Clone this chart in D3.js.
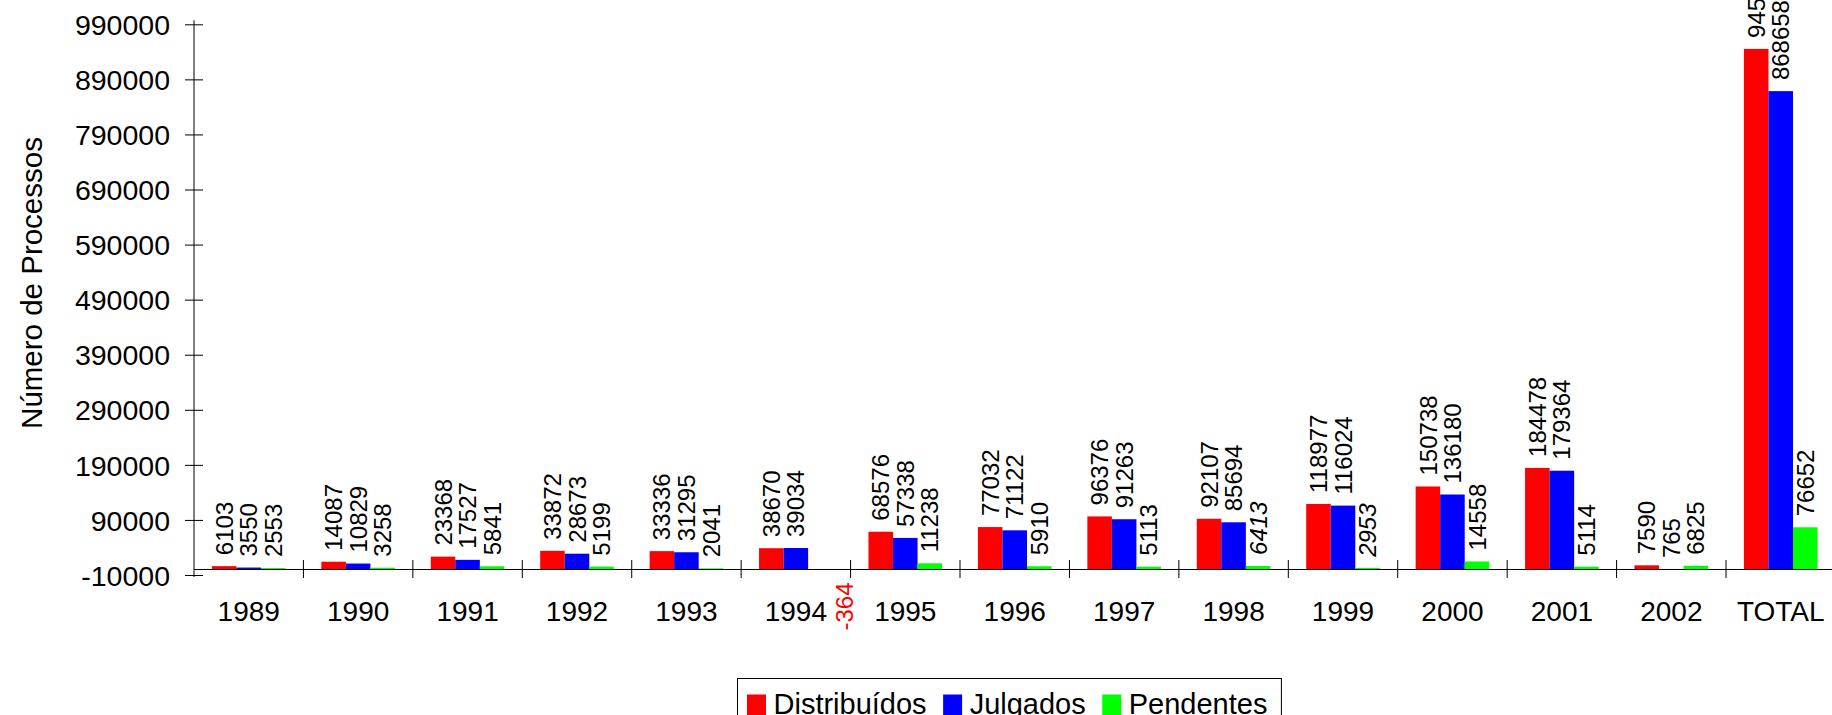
<!DOCTYPE html>
<html>
<head>
<meta charset="utf-8">
<script src="https://cdn.jsdelivr.net/npm/d3@7/dist/d3.min.js"></script>
<style>
  html, body { margin: 0; padding: 0; background: #fff; }
  svg { display: block; }
  text { font-family: "Liberation Sans", Arial, Helvetica, sans-serif; fill: #000; }
</style>
</head>
<body>
<svg id="chart" width="1832" height="715"></svg>
<script>
// ---- data ----
const categories = ["1989","1990","1991","1992","1993","1994","1995","1996","1997","1998","1999","2000","2001","2002","TOTAL"];
const seriesNames = ["Distribuídos","Julgados","Pendentes"];
const distribuidos = [6103,14087,23368,33872,33336,38670,68576,77032,96376,92107,118977,150738,184478,7590,945310];
const julgados = [3550,10829,17527,28673,31295,39034,57338,71122,91263,85694,116024,136180,179364,765,868658];
const pendentes = [2553,3258,5841,5199,2041,-364,11238,5910,5113,6413,2953,14558,5114,6825,76652];
const yTickValues = [-10000,90000,190000,290000,390000,490000,590000,690000,790000,890000,990000];
const yTitle = "Número de Processos";

// ---- styling ----
const colors = {"Distribuídos": "#ff0000", "Julgados": "#0000ff", "Pendentes": "#00ff00"};
const italicKeys = new Set(["1998|Pendentes", "1999|Pendentes"]);
const FONT = '"Liberation Sans", Arial, Helvetica, sans-serif';
const fmt = v => String(v); // plain hyphen-minus, no grouping

const seriesValues = [distribuidos, julgados, pendentes];
const rows = categories.map((c, i) => ({
  cat: c,
  values: seriesNames.map((s, j) => ({cat: c, series: s, value: seriesValues[j][i]}))
}));

const svg = d3.select("#chart");

const axisX = 194;
const y = d3.scaleLinear().domain([-10000, 990000]).range([575, 24.3]);
const x0 = d3.scaleBand().domain(categories).range([axisX, axisX + 15 * 109.43]).paddingInner(0).paddingOuter(0);
const x1 = d3.scaleBand().domain(seriesNames).range([0, x0.bandwidth()]).paddingInner(0).paddingOuter(0.73);
const y0 = y(0);

// ---- bars ----
const groups = svg.append("g").selectAll("g").data(rows).join("g")
  .attr("transform", d => `translate(${x0(d.cat)},0)`);

groups.selectAll("rect").data(d => d.values).join("rect")
  .attr("x", d => x1(d.series))
  .attr("width", x1.bandwidth())
  .attr("y", d => Math.min(y(d.value), y0))
  .attr("height", d => Math.abs(y(d.value) - y0))
  .attr("fill", d => colors[d.series]);

// ---- value labels ----
const labelSize = 24;
groups.selectAll("text.val").data(d => d.values).join("text")
  .attr("class", "val")
  .attr("font-size", labelSize)
  .attr("font-style", d => italicKeys.has(d.cat + "|" + d.series) ? "italic" : "normal")
  .style("fill", d => d.value < 0 ? "#ff0000" : "#000")
  .attr("text-anchor", d => d.value < 0 ? "end" : "start")
  .attr("transform", d => {
    const cx = x1(d.series) + x1.bandwidth() / 2 + 0.358 * labelSize;
    if (d.value < 0) {
      return `translate(${cx + x1.bandwidth() - 1},${y0 + 13}) rotate(-90)`;
    }
    return `translate(${cx},${y(d.value) - 11}) rotate(-90)`;
  })
  .text(d => fmt(d.value));

// ---- y axis ----
const yAxis = d3.axisLeft(y).tickValues(yTickValues).tickSizeOuter(0).tickSizeInner(9).tickFormat(fmt);
const gy = svg.append("g").attr("transform", `translate(${axisX},0)`).call(yAxis);
gy.select(".domain").remove();
gy.selectAll(".tick line").attr("x1", 9).attr("x2", -9).attr("stroke", "#000");
gy.selectAll(".tick text")
  .attr("x", -24).attr("dy", "0.358em")
  .attr("font-size", 28.5).attr("font-family", FONT).style("fill", "#000");
gy.append("line")
  .attr("x1", 0).attr("x2", 0)
  .attr("y1", y(990000) - 4).attr("y2", y(-10000) + 2)
  .attr("stroke", "#000");

// ---- x axis ----
const xAxis = d3.axisBottom(x0).tickSize(0).tickSizeOuter(0);
const gx = svg.append("g").attr("transform", `translate(0,${y0})`).call(xAxis);
gx.select(".domain").remove();
gx.selectAll(".tick text")
  .attr("y", 621 - y0).attr("dy", 0)
  .attr("font-size", 28).attr("font-family", FONT).style("fill", "#000");
gx.append("line")
  .attr("x1", axisX).attr("x2", x0.range()[1])
  .attr("y1", 0).attr("y2", 0).attr("stroke", "#000");
gx.selectAll("line.sep").data(categories.slice(1)).join("line")
  .attr("class", "sep")
  .attr("x1", d => x0(d)).attr("x2", d => x0(d))
  .attr("y1", -9.5).attr("y2", 8.5)
  .attr("stroke", "#000");

// ---- y title ----
svg.append("text")
  .attr("transform", `translate(42,283) rotate(-90)`)
  .attr("text-anchor", "middle")
  .attr("font-size", 29.5)
  .text(yTitle);

// ---- legend ----
const legend = svg.append("g");
const box = legend.append("rect")
  .attr("x", 737.5).attr("y", 678.5).attr("height", 50)
  .attr("fill", "none").attr("stroke", "#000").attr("stroke-width", 1);
let lx = 747;
seriesNames.forEach(s => {
  legend.append("rect").attr("x", lx).attr("y", 694.5).attr("width", 19).attr("height", 21).attr("fill", colors[s]);
  const t = legend.append("text").attr("x", lx + 26.5).attr("y", 713.6).attr("font-size", 29).text(s);
  lx = lx + 26.5 + t.node().getComputedTextLength() + 16.5;
});
box.attr("width", lx - 16.5 + 14 - 737.5);
</script>
</body>
</html>
